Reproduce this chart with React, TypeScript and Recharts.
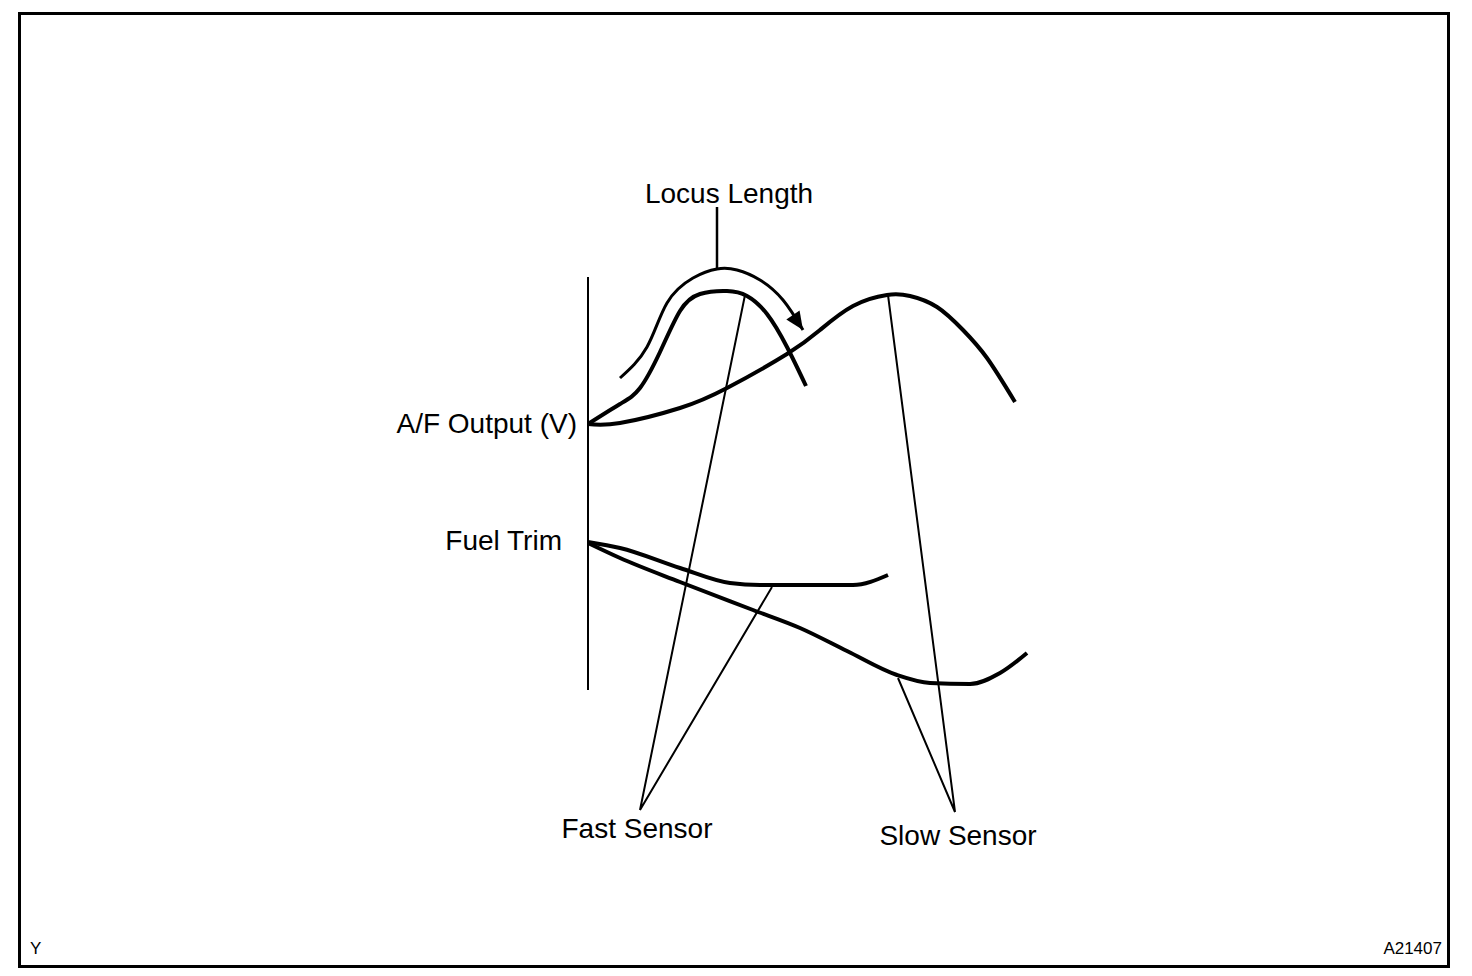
import { ComposedChart, Line, XAxis, YAxis, Customized } from 'recharts'

// sampled points of the traces, in drawing units (x right, y down)
const afFast = [
  { x: 588, y: 424 }, { x: 620, y: 404 }, { x: 640, y: 388 }, { x: 660, y: 352 },
  { x: 680, y: 311 }, { x: 700, y: 294 }, { x: 727, y: 291 }, { x: 747, y: 296 },
  { x: 767, y: 314 }, { x: 787, y: 347 }, { x: 806, y: 386 },
]
const afSlow = [
  { x: 588, y: 424 }, { x: 620, y: 423 }, { x: 680, y: 408 }, { x: 727, y: 388 },
  { x: 787, y: 354 }, { x: 820, y: 330 }, { x: 853, y: 306 }, { x: 887, y: 295 },
  { x: 910, y: 296 }, { x: 937, y: 307 }, { x: 963, y: 330 }, { x: 987, y: 358 },
  { x: 1015, y: 402 },
]
const trimFast = [
  { x: 588, y: 542 }, { x: 620, y: 548 }, { x: 680, y: 568 }, { x: 730, y: 583 },
  { x: 760, y: 585 }, { x: 853, y: 585 }, { x: 888, y: 575 },
]
const trimSlow = [
  { x: 588, y: 543 }, { x: 620, y: 558 }, { x: 680, y: 582 }, { x: 753, y: 610 },
  { x: 800, y: 628 }, { x: 847, y: 651 }, { x: 897, y: 675 }, { x: 930, y: 683 },
  { x: 970, y: 684 }, { x: 1000, y: 673 }, { x: 1027, y: 653 },
]
const locusPath = [
  { x: 620, y: 378 }, { x: 647, y: 347 }, { x: 667, y: 303 }, { x: 693, y: 278 },
  { x: 717, y: 269 }, { x: 737, y: 270 }, { x: 760, y: 280 }, { x: 783, y: 300 },
  { x: 803, y: 330 },
]
const locusStem = [{ x: 717, y: 207 }, { x: 717, y: 269 }]
const axisLine = [{ x: 588, y: 277 }, { x: 588, y: 690 }]
const fastLeaders = [{ x: 745, y: 295 }, { x: 640, y: 810 }, { x: 772, y: 587 }]
const slowLeaders = [{ x: 888, y: 295 }, { x: 955, y: 812 }, { x: 898, y: 678 }]

const labels = ['Locus Length', 'A/F Output (V)', 'Fuel Trim', 'Fast Sensor', 'Slow Sensor']
const cornerLabels = ['Y', 'A21407']

const W = 1472
const H = 976
const font = '"Liberation Sans", Arial, sans-serif'

// arrowhead drawn on the last point of the locus trace only
function LocusDot(props: any) {
  const { cx, cy, index } = props
  if (index !== locusPath.length - 1) return <g key={index} />
  return (
    <polygon
      key={index}
      points="0,0 -8,-18 8,-18"
      fill="#000"
      transform={`translate(${cx},${cy}) rotate(-34)`}
    />
  )
}

function Texts() {
  const t = { fill: '#000', fontFamily: font, fontSize: 28, dominantBaseline: 'central' as const }
  const s = { fill: '#000', fontFamily: font, fontSize: 17, dominantBaseline: 'central' as const }
  return (
    <g>
      <text {...t} x={729} y={193} textAnchor="middle">{labels[0]}</text>
      <text {...t} x={577} y={423} textAnchor="end">{labels[1]}</text>
      <text {...t} x={562} y={540} textAnchor="end">{labels[2]}</text>
      <text {...t} x={637} y={828} textAnchor="middle">{labels[3]}</text>
      <text {...t} x={958} y={835} textAnchor="middle">{labels[4]}</text>
      <text {...s} x={30} y={948} textAnchor="start">{cornerLabels[0]}</text>
      <text {...s} x={1442} y={948} textAnchor="end">{cornerLabels[1]}</text>
    </g>
  )
}

const common = { dataKey: 'y', stroke: '#000', activeDot: false, legendType: 'none' as const, isAnimationActive: false }

export default function App() {
  return (
    <div style={{ position: 'absolute', left: 0, top: 0, width: W, height: H, background: '#fff' }}>
      <div
        style={{
          position: 'absolute', left: 18, top: 12, width: 1432 - 6, height: 956 - 6,
          border: '3px solid #000',
        }}
      />
      <div style={{ position: 'absolute', left: 0, top: 0 }}>
        <ComposedChart width={W} height={H} margin={{ top: 0, right: 0, bottom: 0, left: 0 }}>
          <XAxis type="number" dataKey="x" domain={[0, W]} hide allowDataOverflow />
          <YAxis type="number" dataKey="y" domain={[0, H]} reversed hide allowDataOverflow />
          <Line {...common} data={axisLine} type="linear" strokeWidth={2} dot={false} />
          <Line {...common} data={locusStem} type="linear" strokeWidth={2.5} dot={false} />
          <Line {...common} data={fastLeaders} type="linear" strokeWidth={2} dot={false} />
          <Line {...common} data={slowLeaders} type="linear" strokeWidth={2} dot={false} />
          <Line {...common} data={afSlow} type="natural" strokeWidth={4} dot={false} />
          <Line {...common} data={afFast} type="natural" strokeWidth={4} dot={false} />
          <Line {...common} data={trimFast} type="monotone" strokeWidth={4} dot={false} />
          <Line {...common} data={trimSlow} type="monotone" strokeWidth={4} dot={false} />
          <Line {...common} data={locusPath} type="natural" strokeWidth={3} dot={<LocusDot />} />
          <Customized component={<Texts />} />
        </ComposedChart>
      </div>
    </div>
  )
}
